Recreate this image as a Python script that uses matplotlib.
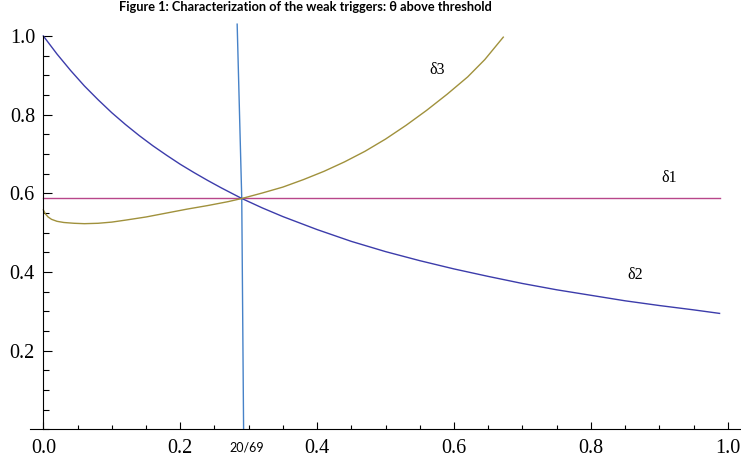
import matplotlib
matplotlib.use("Agg")
import matplotlib.pyplot as plt
from matplotlib.ticker import MultipleLocator

plt.rcParams["font.family"] = ["Liberation Serif", "DejaVu Serif"]

# delta1: horizontal line
d1_x = [0.0, 0.988]
d1_y = [0.587, 0.587]

# delta2: decreasing curve
d2_x = [0.0, 0.02, 0.04, 0.06, 0.08, 0.1, 0.12, 0.14, 0.16, 0.18, 0.2, 0.22, 0.24, 0.26, 0.29,
        0.32, 0.35, 0.4, 0.45, 0.5, 0.55, 0.6, 0.65, 0.7, 0.75, 0.8, 0.85, 0.9, 0.95, 0.988]
d2_y = [1.0, 0.954, 0.912, 0.873, 0.838, 0.805, 0.775, 0.747, 0.721, 0.697, 0.674, 0.653, 0.633, 0.614, 0.587,
        0.563, 0.541, 0.508, 0.478, 0.452, 0.429, 0.408, 0.389, 0.371, 0.355, 0.341, 0.327, 0.315, 0.304, 0.295]

# delta3: dips then rises
d3_x = [0.0, 0.003, 0.007, 0.012, 0.02, 0.03, 0.045, 0.06, 0.08, 0.1, 0.12, 0.15, 0.18, 0.21, 0.24,
        0.27, 0.29, 0.32, 0.35, 0.38, 0.41, 0.44, 0.47, 0.5, 0.53, 0.56, 0.59, 0.62, 0.645, 0.672]
d3_y = [0.558, 0.548, 0.540, 0.534, 0.529, 0.526, 0.524, 0.523, 0.524, 0.527, 0.532, 0.540, 0.550, 0.560, 0.569,
        0.579, 0.587, 0.601, 0.616, 0.635, 0.656, 0.680, 0.707, 0.738, 0.773, 0.811, 0.852, 0.896, 0.940, 0.997]

# steep threshold line
thr_x = [0.2832, 0.2899, 0.2926]
thr_y = [1.03, 0.587, 0.0]

labels = ["δ1", "δ2", "δ3"]
label_pos = [(0.915, 0.638), (0.865, 0.393), (0.575, 0.914)]

fig = plt.figure(figsize=(7.41, 4.63), dpi=100)
# x=0 at px 43.3, 684.7 px per unit; y=0 at px 429.5, 393.5 px per unit
ax = fig.add_axes([0.0400, 0.0724, 0.9597, 0.8839])

ax.plot(thr_x, thr_y, color="#4682c8", lw=1.0)
ax.plot(d1_x, d1_y, color="#b8468a", lw=1.0)
ax.plot(d2_x, d2_y, color="#3c3cab", lw=1.0)
ax.plot(d3_x, d3_y, color="#a0913c", lw=1.0)

for txt, (lx, ly) in zip(labels, label_pos):
    ax.text(lx, ly, txt, ha="center", va="center", fontsize=11.5)

ax.set_xlim(-0.02, 1.019)
ax.set_ylim(0, 1.04)

ax.spines["top"].set_visible(False)
ax.spines["right"].set_visible(False)
ax.spines["left"].set_position(("data", 0))
ax.spines["left"].set_bounds(0, 1.0)

ax.xaxis.set_minor_locator(MultipleLocator(0.05))
ax.yaxis.set_minor_locator(MultipleLocator(0.05))
ax.set_xticks([0.0, 0.2, 0.4, 0.6, 0.8, 1.0])
ax.set_yticks([0.2, 0.4, 0.6, 0.8, 1.0])
ax.set_xticklabels(["0.0", "0.2", "0.4", "0.6", "0.8", "1.0"])
ax.set_yticklabels(["0.2", "0.4", "0.6", "0.8", "1.0"])

ax.tick_params(axis="x", which="major", direction="in", length=5, width=0.8, pad=6.5, labelsize=14.5)
ax.tick_params(axis="x", which="minor", direction="in", length=3, width=0.8)
ax.tick_params(axis="y", which="major", direction="in", length=6.5, width=0.8, pad=6, labelsize=14.5)
ax.tick_params(axis="y", which="minor", direction="in", length=4.3, width=0.8)

ax.text(20 / 69 + 0.008, -0.045, "20/69", ha="center", va="center", fontsize=9,
        family="Lato", clip_on=False)

fig.text(0.412, 0.985, "Figure 1: Characterization of the weak triggers: θ above threshold",
         ha="center", va="center", fontsize=9.2, fontweight="bold", family=["Lato", "DejaVu Sans"])

fig.savefig("out.png", dpi=100)
